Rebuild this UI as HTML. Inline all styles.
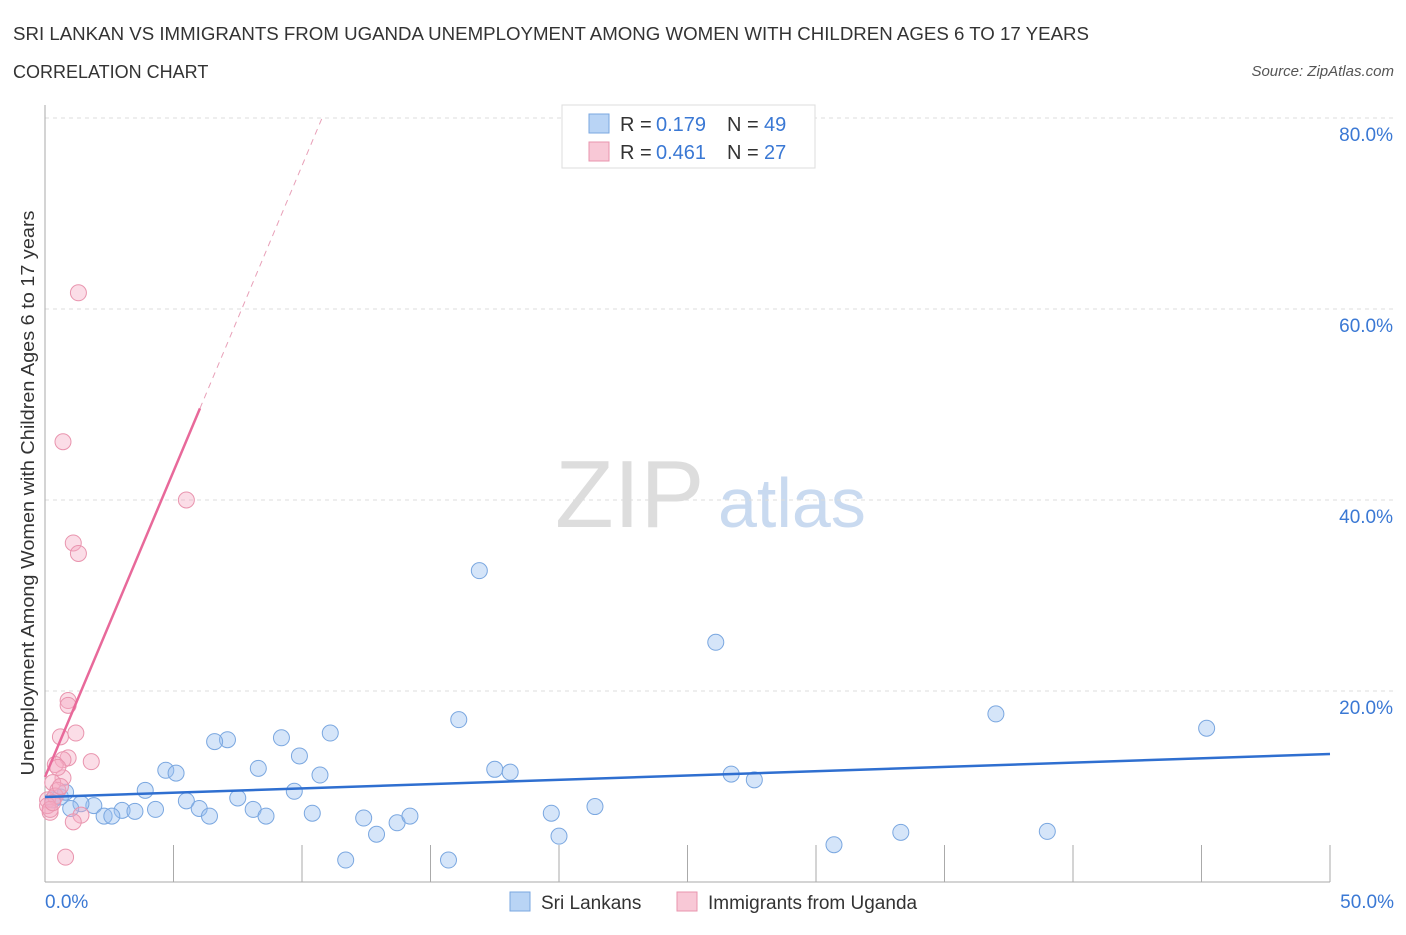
<!DOCTYPE html>
<html><head><meta charset="utf-8"><style>
body{margin:0;background:#fff;font-family:"Liberation Sans",sans-serif;}
svg text{font-family:"Liberation Sans",sans-serif;}
</style></head><body>
<svg id="chart" width="1406" height="930" xmlns="http://www.w3.org/2000/svg">
<text x="13" y="40" font-size="18" fill="#333" textLength="1076" lengthAdjust="spacingAndGlyphs">SRI LANKAN VS IMMIGRANTS FROM UGANDA UNEMPLOYMENT AMONG WOMEN WITH CHILDREN AGES 6 TO 17 YEARS</text>
<text x="13" y="78" font-size="18" fill="#333">CORRELATION CHART</text>
<text x="1394" y="76" font-size="15" fill="#555" text-anchor="end" font-style="italic">Source: ZipAtlas.com</text>
<text x="555" y="527" font-size="96" fill="#ddd" font-family="Liberation Serif">ZIP</text>
<text x="718" y="527" font-size="70" fill="#c9daf0">atlas</text>
<text transform="translate(34,493) rotate(-90)" font-size="18" fill="#333" text-anchor="middle" textLength="565" lengthAdjust="spacingAndGlyphs">Unemployment Among Women with Children Ages 6 to 17 years</text>
<g id="grid"></g><g id="marks"></g>
<g>
<rect x="562" y="105" width="253" height="63" fill="#fff" stroke="#ddd"/>
<rect x="589" y="114" width="20" height="19" fill="#b9d4f5" stroke="#7aa7e0"/>
<text x="620" y="131" font-size="20" fill="#333">R =</text><text x="656" y="131" font-size="20" fill="#3a78d4">0.179</text>
<text x="727" y="131" font-size="20" fill="#333">N =</text><text x="764" y="131" font-size="20" fill="#3a78d4">49</text>
<rect x="589" y="142" width="20" height="19" fill="#f8c8d6" stroke="#e994ae"/>
<text x="620" y="159" font-size="20" fill="#333">R =</text><text x="656" y="159" font-size="20" fill="#3a78d4">0.461</text>
<text x="727" y="159" font-size="20" fill="#333">N =</text><text x="764" y="159" font-size="20" fill="#3a78d4">27</text>
</g>
<g>
<rect x="510" y="892" width="20" height="19" fill="#b9d4f5" stroke="#7aa7e0"/>
<text x="541" y="909" font-size="19" fill="#333">Sri Lankans</text>
<rect x="677" y="892" width="20" height="19" fill="#f8c8d6" stroke="#e994ae"/>
<text x="708" y="909" font-size="19" fill="#333">Immigrants from Uganda</text>
</g>
</svg>
<script>
const yTicks=[20,40,60,80];
const xTickLabels=["0.0%","50.0%"];
const blueX=[16.9,26.1,37.0,45.2,16.1,7.1,6.6,9.2,11.1,9.9,4.7,5.1,8.3,10.7,17.5,18.1,26.7,27.6,3.9,9.7,5.5,6.0,6.4,7.5,8.1,8.6,10.4,4.3,3.0,3.5,1.9,2.3,2.6,1.4,1.0,0.6,0.3,12.4,12.9,13.7,14.2,11.7,15.7,19.7,20.0,21.4,30.7,33.3,39.0,0.8];
const blueY=[32.6,25.1,17.6,16.1,17.0,14.9,14.7,15.1,15.6,13.2,11.7,11.4,11.9,11.2,11.8,11.5,11.3,10.7,9.6,9.5,8.5,7.7,6.9,8.8,7.6,6.9,7.2,7.6,7.5,7.4,8.0,6.9,6.9,8.2,7.7,8.9,8.6,6.7,5.0,6.2,6.9,2.3,2.3,7.2,4.8,7.9,3.9,5.2,5.3,9.4];
const pinkX=[1.3,0.7,5.5,1.1,1.3,0.9,0.9,1.2,0.6,0.9,0.7,0.4,1.8,0.7,0.3,0.5,0.1,0.2,1.4,1.1,0.8,0.4,0.1,0.2,0.6,0.3,0.5];
const pinkY=[61.7,46.1,40.0,35.5,34.4,19.0,18.5,15.6,15.2,13.0,12.8,12.3,12.6,10.9,10.4,9.6,8.6,7.3,7.0,6.3,2.6,9.0,8.0,7.6,10.0,8.3,12.0];
const blueTrend=[8.9,13.4];
const pinkTrend=[11.0,6.4];
const X=v=>45+v*25.7, Y=v=>882-v*9.55;
const NS="http://www.w3.org/2000/svg";
function mk(t,a,p){const e=document.createElementNS(NS,t);for(const k in a)e.setAttribute(k,a[k]);p.appendChild(e);return e;}
const g=document.getElementById('grid'), m=document.getElementById('marks');
yTicks.forEach(t=>{
 const l=mk('line',{x1:45,x2:1394,y1:Y(t),y2:Y(t),stroke:'#ddd','stroke-dasharray':'4,4'},g);
 
 
 const tx=mk('text',{x:1393,y:Y(t)+23,'font-size':19,fill:'#3a78d4','text-anchor':'end'},g);
 tx.textContent=t.toFixed(1)+'%';
 
 
});
mk('line',{x1:45,x2:45,y1:105,y2:882,stroke:'#aaa'},g);
mk('line',{x1:45,x2:1330,y1:882,y2:882,stroke:'#aaa'},g);
for(let i=1;i<=10;i++){const t=mk('line',{x1:X(i*5),x2:X(i*5),y1:845,y2:882,stroke:'#aaa'},g);
 
 }
[[0,'start',45],[50,'end',1394]].forEach((d,i)=>{const t=mk('text',{x:d[2],y:908,'font-size':19,fill:'#3a78d4','text-anchor':d[1]},g);t.textContent=xTickLabels[i];
 
 });
blueX.forEach((x,i)=>{const c=mk('circle',{cx:X(x),cy:Y(blueY[i]),r:8,fill:'rgba(150,190,240,0.4)',stroke:'#7aa7e0'},m);
 
 });
pinkX.forEach((x,i)=>{const c=mk('circle',{cx:X(x),cy:Y(pinkY[i]),r:8,fill:'rgba(245,170,195,0.4)',stroke:'#e994ae'},m);
 
 });
const bl=mk('line',{x1:X(0),y1:Y(blueTrend[0]),x2:X(50),y2:Y(blueTrend[1]),stroke:'#2f6fd0','stroke-width':2.5},m);


const px1=6.03, px2=(80-pinkTrend[0])/pinkTrend[1];
const pl=mk('line',{x1:X(0),y1:Y(pinkTrend[0]),x2:X(px1),y2:Y(pinkTrend[0]+pinkTrend[1]*px1),stroke:'#e8699a','stroke-width':2.5},m);


const pd=mk('line',{x1:X(px1),y1:Y(pinkTrend[0]+pinkTrend[1]*px1),x2:X(px2),y2:Y(80),stroke:'#e8a0b8','stroke-width':1,'stroke-dasharray':'6,5'},m);


</script>
</body></html>
